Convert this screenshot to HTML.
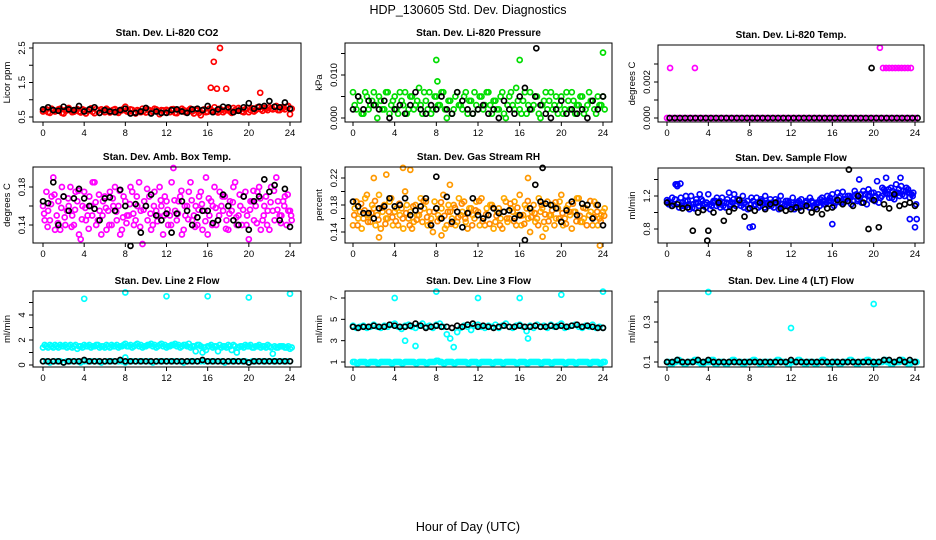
<!DOCTYPE html>
<html><head><meta charset="utf-8"><style>
body{margin:0;background:#fff}
svg{display:block;font-family:"Liberation Sans",sans-serif}
</style></head><body>
<svg id="c" width="936" height="540" xmlns="http://www.w3.org/2000/svg">
<text x="468" y="14" font-size="12.5" text-anchor="middle">HDP_130605  Std. Dev. Diagnostics</text>
<text x="468" y="531" font-size="12.5" text-anchor="middle">Hour of Day (UTC)</text>
</svg>
<script>
const xTicks=[0,4,8,12,16,20,24];
const xTickLabels=["0","4","8","12","16","20","24"];
// Panel 1 CO2
const co2Red=[0.66,0.72,0.62,0.70,0.68,0.74,0.60,0.69,0.71,0.65,0.73,0.63,0.70,0.67,0.75,0.61,0.68,0.72,0.64,0.70,0.66,0.73,0.62,0.69,0.80,0.65,0.71,0.60,0.68,0.74,0.63,0.70,0.66,0.72,0.58,0.69,0.71,0.64,0.73,0.61,0.68,0.70,0.66,0.74,0.60,0.69,0.55,0.72,0.65,0.70,0.78,0.63,0.71,0.68,0.74,0.62,0.70,0.76,0.66,0.72,0.64,0.75,0.70,0.80,0.68,0.74,0.78,0.72,0.82,0.70,0.76,0.80,0.58];
const co2RedB=[0.70,0.64,0.74,0.66,0.72,0.62,0.70,0.76,0.64,0.70,0.66,0.72,0.60,0.71,0.65,0.73,0.62,0.68,0.74,0.63,0.71,0.65,0.70,0.74,0.66,0.72,0.63,0.70,0.64,0.68,0.72,0.62,0.74,0.66,0.70,0.64,0.68,0.72,0.62,0.70,0.74,0.64,0.70,0.66,0.72,0.62,0.70,0.64,0.74,0.68,0.66,0.74,0.64,0.72,0.66,0.76,0.68,0.72,0.64,0.76,0.70,0.66,0.78,0.72,0.76,0.70,0.74,0.80,0.70,0.78,0.72,0.82,0.74];
const co2Black=[0.72,0.78,0.70,0.68,0.80,0.72,0.70,0.82,0.66,0.72,0.78,0.62,0.70,0.66,0.64,0.70,0.74,0.60,0.62,0.66,0.76,0.60,0.66,0.62,0.62,0.70,0.72,0.66,0.62,0.72,0.74,0.70,0.82,0.64,0.72,0.80,0.78,0.64,0.68,0.78,0.90,0.74,0.80,0.82,0.96,0.80,0.78,0.92,0.74];
const co2OutX=[16.3,16.6,16.9,17.2,17.8,21.1];
const co2OutY=[1.35,2.1,1.32,2.5,1.32,1.2];
// Panel 2 pressure
const presA=[0.006,0.002,0.004,0.001,0.005,0.003,0.006,0.000,0.004,0.002,0.006,0.003,0.005,0.001,0.004,0.006,0.002,0.005,0.003,0.007,0.001,0.004,0.006,0.002,0.005,0.003,0.006,0.000,0.004,0.002,0.006,0.003,0.005,0.001,0.004,0.006,0.002,0.005,0.003,0.006,0.001,0.004,0.002,0.006,0.000,0.005,0.003,0.007,0.002,0.004,0.001,0.006,0.003,0.005,0.000,0.004,0.002,0.006,0.003,0.001,0.005,0.002,0.004,0.006,0.001,0.003,0.005,0.002,0.006,0.004,0.001,0.003,0.005];
const presB=[0.003,0.005,0.001,0.006,0.002,0.004,0.003,0.005,0.002,0.006,0.001,0.004,0.002,0.006,0.003,0.001,0.005,0.002,0.004,0.003,0.006,0.002,0.001,0.005,0.003,0.006,0.002,0.004,0.001,0.005,0.003,0.002,0.006,0.004,0.001,0.003,0.005,0.002,0.006,0.003,0.004,0.002,0.005,0.001,0.003,0.006,0.002,0.004,0.001,0.006,0.003,0.002,0.005,0.001,0.003,0.006,0.004,0.002,0.005,0.003,0.001,0.006,0.002,0.004,0.003,0.005,0.001,0.003,0.004,0.002,0.005,0.003,0.002];
const presBlack=[0.002,0.005,0.002,0.004,0.003,0.002,0.004,0.000,0.002,0.003,0.001,0.003,0.006,0.002,0.001,0.003,0.002,0.005,0.002,0.001,0.006,0.004,0.002,0.001,0.002,0.003,0.001,0.002,0.000,0.004,0.002,0.001,0.005,0.007,0.002,0.005,0.003,0.001,0.000,0.002,0.004,0.001,0.002,0.001,0.002,0.000,0.004,0.002,0.005];
const presOutX=[8,8.1,16,24];
const presOutY=[0.0135,0.0085,0.0135,0.0152];
const presBlackOutX=[17.6];
const presBlackOutY=[0.0162];
// Panel 3 Li-820 temp
const tempZero=[0,0,0,0,0,0,0,0,0,0,0,0,0,0,0,0,0,0,0,0,0,0,0,0,0,0,0,0,0,0,0,0,0,0,0,0,0,0,0,0,0,0,0,0,0,0,0,0,0];
const tempOutX=[0.3,2.7,20.6,20.9,21.2,21.5,21.8,22.1,22.4,22.7,23.0,23.3,23.6];
const tempOutY=[0.00278,0.00278,0.0039,0.00278,0.00278,0.00278,0.00278,0.00278,0.00278,0.00278,0.00278,0.00278,0.00278];
const tempBlackOutX=[19.8];
const tempBlackOutY=[0.00278];
// Panel 4 amb box temp
const ambA=[0.160,0.175,0.145,0.190,0.150,0.135,0.170,0.155,0.180,0.140,0.165,0.125,0.175,0.150,0.160,0.185,0.145,0.130,0.170,0.155,0.140,0.180,0.160,0.135,0.165,0.150,0.175,0.145,0.185,0.120,0.160,0.170,0.140,0.155,0.180,0.130,0.165,0.150,0.200,0.145,0.170,0.135,0.160,0.185,0.150,0.140,0.175,0.155,0.130,0.165,0.180,0.145,0.160,0.170,0.135,0.155,0.185,0.150,0.140,0.175,0.125,0.165,0.160,0.180,0.145,0.170,0.135,0.155,0.190,0.150,0.165,0.140,0.155];
const ambB=[0.145,0.155,0.170,0.135,0.165,0.180,0.140,0.160,0.150,0.175,0.130,0.160,0.145,0.170,0.185,0.140,0.155,0.165,0.135,0.175,0.160,0.145,0.130,0.170,0.150,0.180,0.140,0.160,0.155,0.165,0.145,0.135,0.175,0.150,0.160,0.170,0.140,0.185,0.155,0.165,0.130,0.150,0.175,0.145,0.160,0.170,0.135,0.190,0.150,0.160,0.140,0.175,0.155,0.145,0.165,0.180,0.140,0.160,0.170,0.150,0.165,0.145,0.175,0.135,0.160,0.155,0.180,0.145,0.165,0.150,0.170,0.155,0.145];
const ambC=[0.152,0.138,0.162,0.172,0.142,0.158,0.148,0.168,0.138,0.156,0.176,0.146,0.158,0.136,0.150,0.164,0.172,0.150,0.158,0.140,0.168,0.154,0.176,0.148,0.142,0.162,0.152,0.170,0.138,0.156,0.178,0.152,0.160,0.144,0.166,0.150,0.156,0.140,0.166,0.152,0.176,0.160,0.146,0.166,0.138,0.156,0.162,0.144,0.168,0.140,0.158,0.150,0.170,0.136,0.152,0.164,0.148,0.172,0.156,0.140,0.156,0.176,0.142,0.168,0.150,0.140,0.164,0.176,0.156,0.142,0.160,0.172,0.150];
const ambBlack=[0.165,0.163,0.185,0.140,0.170,0.155,0.168,0.178,0.168,0.160,0.157,0.145,0.168,0.169,0.155,0.177,0.160,0.118,0.162,0.132,0.160,0.172,0.150,0.145,0.152,0.132,0.152,0.165,0.155,0.140,0.148,0.155,0.155,0.142,0.145,0.172,0.160,0.145,0.140,0.170,0.135,0.165,0.170,0.188,0.175,0.182,0.145,0.178,0.138];
// Panel 5 RH
const rhA=[0.150,0.185,0.170,0.160,0.195,0.155,0.175,0.165,0.145,0.180,0.160,0.190,0.170,0.150,0.175,0.200,0.160,0.145,0.180,0.165,0.155,0.185,0.170,0.140,0.175,0.160,0.195,0.150,0.170,0.180,0.155,0.165,0.185,0.145,0.175,0.160,0.170,0.190,0.150,0.165,0.180,0.155,0.175,0.145,0.185,0.160,0.170,0.150,0.195,0.165,0.175,0.140,0.180,0.160,0.170,0.155,0.185,0.165,0.150,0.175,0.195,0.160,0.180,0.145,0.170,0.190,0.155,0.175,0.165,0.150,0.180,0.160,0.170];
const rhB=[0.175,0.160,0.145,0.190,0.165,0.180,0.150,0.195,0.170,0.160,0.185,0.150,0.175,0.165,0.145,0.180,0.170,0.155,0.165,0.190,0.175,0.150,0.160,0.185,0.165,0.175,0.145,0.180,0.160,0.150,0.190,0.170,0.155,0.175,0.165,0.185,0.150,0.160,0.175,0.180,0.145,0.170,0.160,0.190,0.155,0.175,0.185,0.165,0.150,0.180,0.160,0.170,0.155,0.190,0.175,0.145,0.165,0.180,0.160,0.185,0.150,0.175,0.165,0.170,0.190,0.155,0.160,0.180,0.170,0.185,0.150,0.165,0.175];
const rhC=[0.165,0.150,0.182,0.172,0.155,0.168,0.186,0.158,0.176,0.152,0.170,0.162,0.156,0.182,0.160,0.168,0.150,0.178,0.158,0.172,0.186,0.162,0.152,0.170,0.156,0.184,0.164,0.170,0.152,0.176,0.162,0.182,0.160,0.168,0.150,0.172,0.186,0.156,0.166,0.152,0.176,0.164,0.150,0.170,0.160,0.182,0.156,0.176,0.164,0.152,0.186,0.162,0.168,0.150,0.180,0.166,0.156,0.172,0.184,0.160,0.168,0.152,0.170,0.182,0.156,0.164,0.176,0.150,0.186,0.162,0.170,0.156,0.164];
const rhOutX=[0.3,2,3.2,4.8,5.5,9.3,16.8,18.2,23.7,2.5,8.5];
const rhOutY=[0.185,0.22,0.225,0.235,0.232,0.21,0.22,0.133,0.12,0.132,0.135];
const rhBlack=[0.185,0.178,0.168,0.168,0.160,0.175,0.178,0.190,0.178,0.180,0.190,0.165,0.172,0.178,0.190,0.150,0.175,0.160,0.192,0.155,0.170,0.147,0.168,0.190,0.165,0.160,0.165,0.175,0.168,0.170,0.172,0.160,0.165,0.128,0.175,0.210,0.185,0.182,0.180,0.175,0.155,0.172,0.185,0.165,0.182,0.180,0.160,0.180,0.150];
const rhBlackOutX=[8,18.2];
const rhBlackOutY=[0.222,0.235];
// Panel 6 sample flow
const flowA=[1.15,1.12,1.10,1.32,1.18,1.08,1.14,1.20,1.05,1.12,1.16,1.10,1.22,1.08,1.14,1.10,1.18,1.06,1.24,1.12,1.08,1.15,1.20,1.10,1.05,1.14,1.18,1.08,1.12,1.10,1.16,1.06,1.12,1.20,1.08,1.14,1.10,1.04,1.12,1.16,1.08,1.10,1.14,1.06,1.12,1.18,1.10,1.15,1.22,1.12,1.18,1.25,1.16,1.20,1.14,1.22,1.18,1.26,1.10,1.20,1.24,1.38,1.18,1.28,1.22,1.30,1.16,1.24,1.32,1.20,1.28,1.22,0.82];
const flowB=[1.10,1.18,1.34,1.06,1.12,1.20,1.04,1.10,1.16,1.22,1.08,1.12,1.04,1.14,1.18,1.06,1.12,1.16,1.10,1.22,1.16,1.08,1.12,1.04,1.18,1.10,1.06,1.14,1.20,1.08,1.12,1.16,1.04,1.10,1.14,1.08,1.18,1.12,1.06,1.10,1.14,1.18,1.08,1.12,1.16,1.10,1.20,1.14,1.08,1.24,1.12,1.16,1.20,1.10,1.26,1.16,1.12,1.22,1.28,1.16,1.20,1.12,1.30,1.24,1.18,1.26,1.34,1.20,1.26,1.30,1.18,1.24,0.92];
const flowC=[1.13,1.08,1.16,1.12,1.08,1.14,1.10,1.06,1.12,1.08,1.14,1.06,1.10,1.12,1.08,1.14,1.08,1.12,1.08,1.16,1.10,1.12,1.06,1.14,1.10,1.08,1.12,1.16,1.06,1.12,1.08,1.12,1.14,1.06,1.10,1.12,1.06,1.10,1.14,1.08,1.12,1.06,1.12,1.10,1.08,1.14,1.12,1.18,1.12,1.16,1.20,1.12,1.14,1.18,1.20,1.14,1.22,1.16,1.20,1.24,1.14,1.22,1.20,1.26,1.28,1.18,1.24,1.28,1.22,1.26,1.24,1.20,1.10];
const flowOutX=[1,1.3,8,8.3,16,18.6,21.2,22.6,23.5];
const flowOutY=[1.34,1.35,0.82,0.83,0.86,1.4,1.42,1.42,0.92];
const flowBlack=[1.12,1.08,1.10,1.05,1.06,0.78,1.00,1.03,0.78,1.00,1.12,0.90,1.01,1.05,1.15,0.95,1.05,1.02,1.12,1.04,1.10,1.12,1.05,1.02,1.04,1.06,1.02,1.08,1.00,1.04,0.98,1.05,1.06,1.15,1.10,1.14,1.08,1.20,1.12,0.80,1.15,0.82,1.10,1.05,1.22,1.08,1.10,1.12,1.08];
const flowBlackOutX=[17.6,3.9];
const flowBlackOutY=[1.52,0.66];
// Panel 7 line 2
const l2Cyan=[1.4,1.5,1.6,1.4,1.5,1.6,1.5,1.4,1.6,1.5,1.3,1.5,1.6,1.5,1.4,1.5,1.6,1.5,1.4,1.5,1.6,1.5,1.4,1.5,1.7,1.5,1.4,1.6,1.5,1.4,1.5,1.6,1.5,1.4,1.6,1.5,1.4,1.5,1.6,1.5,1.4,1.6,1.5,1.4,1.5,1.6,1.5,1.4,1.5,1.6,1.5,1.1,1.4,1.5,1.6,1.2,1.5,1.4,1.5,1.6,1.5,1.4,1.5,1.6,1.5,1.4,1.5,0.9,1.4,1.5,1.5,1.4,1.3];
const l2CyanB=[1.6,1.4,1.5,1.6,1.4,1.5,1.6,1.5,1.4,1.6,1.5,1.4,1.5,1.6,1.5,1.6,1.4,1.5,1.6,1.4,1.5,1.6,1.5,1.6,1.5,1.6,1.5,1.7,1.6,1.5,1.6,1.7,1.6,1.5,1.7,1.6,1.5,1.6,1.7,1.6,1.5,1.6,1.7,1.5,1.1,1.6,1.0,1.2,1.5,1.4,1.5,1.6,1.5,1.4,1.5,1.6,1.0,1.5,1.4,1.5,1.6,1.4,1.5,1.4,1.5,1.6,1.4,1.5,1.4,1.5,1.4,1.5,1.4];
const l2CyanLow=[0.3,0.3,0.2,0.3,0.3,0.3,0.2,0.3,0.3,0.3,0.3,0.2,0.3,0.3,0.3,0.3,0.3,0.2,0.3,0.3,0.3,0.3,0.3,0.3,0.2,0.3,0.3,0.3,0.3,0.3,0.3,0.3,0.2,0.3,0.3,0.3,0.3,0.3,0.3,0.3,0.3,0.2,0.3,0.3,0.3,0.3,0.3,0.3,0.3,0.3,0.3,0.3,0.3,0.2,0.3,0.3,0.3,0.3,0.3,0.3,0.2,0.3,0.3,0.3,0.3,0.3,0.3,0.3,0.3,0.3,0.3,0.3,0.3];
const l2Black=[0.3,0.3,0.3,0.3,0.2,0.3,0.3,0.3,0.4,0.3,0.3,0.3,0.3,0.3,0.3,0.4,0.3,0.3,0.3,0.3,0.3,0.3,0.3,0.3,0.3,0.3,0.3,0.3,0.3,0.3,0.3,0.4,0.3,0.3,0.3,0.3,0.3,0.3,0.3,0.3,0.2,0.3,0.3,0.3,0.3,0.3,0.3,0.3,0.3];
const l2OutX=[4,8,12,16,20,24,8];
const l2OutY=[5.3,5.8,5.5,5.5,5.4,5.7,0.6];
// Panel 8 line 3
const l3Upper=[4.4,4.2,4.3,4.4,4.2,4.3,4.5,4.3,4.2,4.4,4.3,4.5,4.6,4.3,4.1,4.4,4.5,4.3,4.2,4.4,4.6,4.3,4.4,4.2,4.5,4.6,4.3,3.6,3.2,2.4,3.8,4.2,4.4,4.3,4.0,4.4,4.5,4.3,4.2,4.4,4.3,4.5,4.2,4.4,4.6,4.3,4.2,4.4,4.5,4.3,3.9,4.4,4.2,4.5,4.3,4.4,4.2,4.5,4.3,4.4,4.6,4.2,4.3,4.4,4.5,4.3,4.2,4.4,4.3,4.5,4.2,4.3,4.2];
const l3Lower=[1.0,0.9,1.0,1.0,0.9,1.0,1.0,0.9,1.0,1.0,1.0,0.9,1.0,1.0,0.9,1.0,1.0,1.0,0.9,1.0,1.0,0.9,1.0,1.0,1.1,1.0,0.9,1.0,1.0,0.9,1.0,1.0,1.0,0.9,1.0,1.0,0.9,1.0,1.0,1.0,0.9,1.0,1.0,0.9,1.0,1.0,1.0,0.9,1.0,1.0,0.9,1.0,1.0,1.0,0.9,1.0,1.0,0.9,1.0,1.0,1.0,0.9,1.0,1.0,0.9,1.0,1.0,1.0,0.9,1.0,1.0,0.9,1.0];
const l3Black=[4.3,4.2,4.3,4.3,4.4,4.3,4.3,4.5,4.4,4.3,4.3,4.4,4.6,4.4,4.2,4.3,4.4,4.3,4.3,4.2,4.4,4.3,4.5,4.6,4.3,4.4,4.3,4.2,4.3,4.4,4.3,4.3,4.4,4.3,4.3,4.4,4.3,4.3,4.4,4.3,4.4,4.3,4.4,4.5,4.3,4.4,4.3,4.2,4.2];
const l3OutX=[4,8,12,16,20,24,5,6,16.8];
const l3OutY=[7.0,7.6,7.0,7.0,7.3,7.6,3.0,2.5,3.2];
// Panel 9 line 4
const l4Cyan=[0.10,0.09,0.10,0.11,0.10,0.09,0.10,0.10,0.11,0.10,0.09,0.10,0.10,0.11,0.09,0.10,0.10,0.09,0.10,0.11,0.10,0.10,0.09,0.10,0.10,0.11,0.10,0.09,0.10,0.10,0.09,0.10,0.11,0.10,0.10,0.09,0.10,0.10,0.11,0.10,0.09,0.10,0.10,0.09,0.10,0.11,0.10,0.09,0.10,0.10,0.09,0.10,0.10,0.11,0.10,0.09,0.10,0.10,0.11,0.10,0.09,0.10,0.10,0.11,0.10,0.09,0.10,0.10,0.11,0.10,0.09,0.10,0.10];
const l4Black=[0.10,0.10,0.11,0.10,0.10,0.10,0.11,0.10,0.11,0.10,0.10,0.10,0.10,0.10,0.10,0.10,0.10,0.10,0.10,0.10,0.10,0.10,0.10,0.10,0.11,0.10,0.10,0.10,0.10,0.10,0.10,0.10,0.10,0.10,0.10,0.10,0.10,0.10,0.10,0.10,0.10,0.10,0.11,0.11,0.10,0.11,0.10,0.11,0.10];
const l4OutX=[4,12,20];
const l4OutY=[0.45,0.27,0.39];

const NS="http://www.w3.org/2000/svg";
const svg=document.getElementById('c');
function mk(tag,attrs,parent){const e=document.createElementNS(NS,tag);for(const k in attrs)e.setAttribute(k,attrs[k]);(parent||svg).appendChild(e);return e;}
function idxHours(arr,step){return arr.map((v,i)=>i*step);}

function panel(cfg){
  const g=mk('g',{});
  
  
  const [L,T,R,B]=cfg.box;
  const xs=h=>cfg.x0+(cfg.x24-cfg.x0)*h/24;
  const ys=v=>cfg.py0+(cfg.py1-cfg.py0)*(v-cfg.v0)/(cfg.v1-cfg.v0);
  const title=mk('text',{x:(L+R)/2,y:T-7,'font-size':10,'font-weight':'bold','text-anchor':'middle'},g);
  title.textContent=cfg.title;
  
  
  const pts=mk('g',{fill:'none','stroke-width':1.7},g);
  
  
  cfg.series.forEach(s=>{
    for(let i=0;i<s.y.length;i++){
      const c=mk('circle',{cx:xs(s.x[i]).toFixed(1),cy:ys(s.y[i]).toFixed(1),r:2.5,stroke:s.col},pts);
      
      
    }
  });
  const box=mk('rect',{x:L,y:T,width:R-L,height:B-T,fill:'none',stroke:'#000','stroke-width':1},g);
  
  
  xTicks.forEach((t,i)=>{
    const x=xs(t);
    const tk=mk('line',{x1:x,x2:x,y1:B,y2:B+4,stroke:'#000'},g);
    
    
    const tl=mk('text',{x:x,y:B+14,'font-size':9.5,'text-anchor':'middle'},g);
    tl.textContent=xTickLabels[i];
    
    
  });
  cfg.yticks.forEach((t,i)=>{
    const y=ys(t);
    if(y<T-1||y>B+1)return;
    const tk=mk('line',{x1:L-4,x2:L,y1:y,y2:y,stroke:'#000'},g);
    
    
    if(cfg.ylabels[i]){
      const tl=mk('text',{x:L-8,y:y,'font-size':9.5,'text-anchor':'middle',transform:`rotate(-90 ${L-8} ${y})`},g);
      tl.textContent=cfg.ylabels[i];
      
      
    }
  });
  const yl=mk('text',{x:L-23,y:(T+B)/2,'font-size':9.5,'text-anchor':'middle',transform:`rotate(-90 ${L-23} ${(T+B)/2})`},g);
  yl.textContent=cfg.ylab;
  
  
}
const C1={x0:43,x24:290},C2={x0:353,x24:603},C3={x0:667,x24:915};
const h3=a=>idxHours(a,1/3), h2=a=>idxHours(a,0.5), h3o=a=>idxHours(a,1/3).map(v=>v+1/6), h3p=a=>idxHours(a,1/3).map(v=>v+1/9);

panel({name:'panel-co2',title:'Stan. Dev. Li-820 CO2',box:[33,43,301,122],...C1,v0:0.5,py0:117,v1:2.5,py1:48,
  yticks:[0.5,1,1.5,2,2.5],ylabels:['0.5','','1.5','','2.5'],ylab:'Licor ppm',
  series:[{x:h3(co2Red),y:co2Red,col:'#f00'},{x:h3o(co2RedB),y:co2RedB,col:'#f00'},{x:co2OutX,y:co2OutY,col:'#f00'},{x:h2(co2Black),y:co2Black,col:'#000'}]});
panel({name:'panel-pressure',title:'Stan. Dev. Li-820 Pressure',box:[345,43,612,122],...C2,v0:0,py0:118,v1:0.01,py1:75,
  yticks:[0,0.005,0.01,0.015],ylabels:['0.000','','0.010',''],ylab:'kPa',
  series:[{x:h3(presA),y:presA,col:'#0d0'},{x:h3o(presB),y:presB,col:'#0d0'},{x:presOutX,y:presOutY,col:'#0d0'},{x:h2(presBlack),y:presBlack,col:'#000'},{x:presBlackOutX,y:presBlackOutY,col:'#000'}]});
panel({name:'panel-li820-temp',title:'Stan. Dev. Li-820 Temp.',box:[658,45,924,122],...C3,v0:0,py0:118,v1:0.002,py1:82,
  yticks:[0,0.001,0.002,0.003],ylabels:['0.000','','0.002',''],ylab:'degrees C',
  series:[{x:h2(tempZero),y:tempZero,col:'#f0f'},{x:tempOutX,y:tempOutY,col:'#f0f'},{x:h2(tempZero).map(v=>v+0.25),y:tempZero,col:'#000'},{x:tempBlackOutX,y:tempBlackOutY,col:'#000'}]});
panel({name:'panel-amb-temp',title:'Stan. Dev. Amb. Box Temp.',box:[33,167,301,243],...C1,v0:0.14,py0:225,v1:0.18,py1:187,
  yticks:[0.14,0.16,0.18],ylabels:['0.14','','0.18'],ylab:'degrees C',
  series:[{x:h3(ambA),y:ambA,col:'#f0f'},{x:h3o(ambB),y:ambB,col:'#f0f'},{x:h3p(ambC),y:ambC,col:'#f0f'},{x:h2(ambBlack),y:ambBlack,col:'#000'}]});
panel({name:'panel-rh',title:'Stan. Dev. Gas Stream RH',box:[345,167,612,243],...C2,v0:0.14,py0:232,v1:0.22,py1:178,
  yticks:[0.14,0.16,0.18,0.2,0.22],ylabels:['0.14','','0.18','','0.22'],ylab:'percent',
  series:[{x:h3(rhA),y:rhA,col:'#f90'},{x:h3o(rhB),y:rhB,col:'#fa0'},{x:h3p(rhC),y:rhC,col:'#f80'},{x:rhOutX,y:rhOutY,col:'#f90'},{x:h2(rhBlack),y:rhBlack,col:'#000'},{x:rhBlackOutX,y:rhBlackOutY,col:'#000'}]});
panel({name:'panel-sample-flow',title:'Stan. Dev. Sample Flow',box:[658,168,924,243],...C3,v0:0.8,py0:229,v1:1.2,py1:196,
  yticks:[0.8,1.0,1.2,1.4],ylabels:['0.8','','1.2',''],ylab:'ml/min',
  series:[{x:h3(flowA),y:flowA,col:'#00f'},{x:h3o(flowB),y:flowB,col:'#00f'},{x:h3p(flowC),y:flowC,col:'#00f'},{x:flowOutX,y:flowOutY,col:'#00f'},{x:h2(flowBlack),y:flowBlack,col:'#000'},{x:flowBlackOutX,y:flowBlackOutY,col:'#000'}]});
panel({name:'panel-line2-flow',title:'Stan. Dev. Line 2 Flow',box:[33,291,301,367],...C1,v0:0,py0:365,v1:4,py1:315,
  yticks:[0,1,2,3,4,5],ylabels:['0','','2','','4',''],ylab:'ml/min',
  series:[{x:h3(l2Cyan),y:l2Cyan,col:'#0ff'},{x:h3o(l2CyanB),y:l2CyanB,col:'#0ff'},{x:h3(l2CyanLow),y:l2CyanLow,col:'#0ff'},{x:l2OutX,y:l2OutY,col:'#0ff'},{x:h2(l2Black),y:l2Black,col:'#000'}]});
panel({name:'panel-line3-flow',title:'Stan. Dev. Line 3 Flow',box:[345,291,612,367],...C2,v0:1,py0:362,v1:7,py1:298,
  yticks:[1,3,5,7],ylabels:['1','3','5','7'],ylab:'ml/min',
  series:[{x:h3(l3Upper),y:l3Upper,col:'#0ff'},{x:h3(l3Lower),y:l3Lower,col:'#0ff'},{x:h3o(l3Lower),y:l3Lower,col:'#0ff'},{x:l3OutX,y:l3OutY,col:'#0ff'},{x:h2(l3Black),y:l3Black,col:'#000'}]});
panel({name:'panel-line4-flow',title:'Stan. Dev. Line 4 (LT) Flow',box:[658,291,924,367],...C3,v0:0.1,py0:362,v1:0.3,py1:322,
  yticks:[0.1,0.2,0.3,0.4],ylabels:['0.1','','0.3',''],ylab:'ml/min',
  series:[{x:h3(l4Cyan),y:l4Cyan,col:'#0ff'},{x:h3o(l4Cyan),y:l4Cyan,col:'#0ff'},{x:l4OutX,y:l4OutY,col:'#0ff'},{x:h2(l4Black),y:l4Black,col:'#000'}]});
</script>
</body></html>
